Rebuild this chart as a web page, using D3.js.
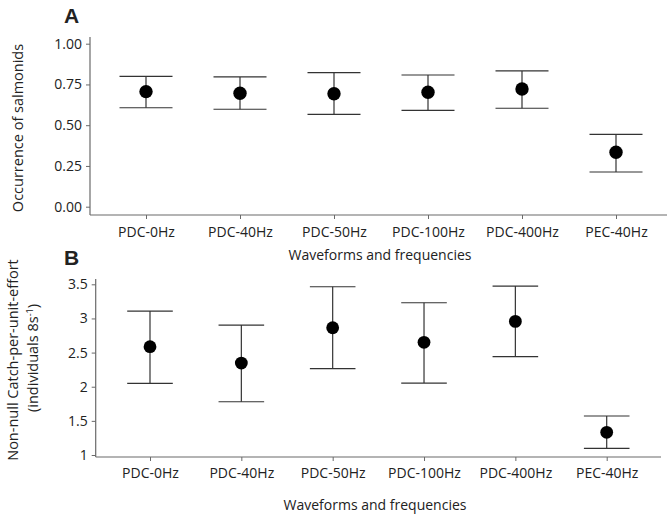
<!DOCTYPE html>
<html>
<head>
<meta charset="utf-8">
<script src="https://cdn.jsdelivr.net/npm/d3@7"></script>
<style>
  html, body { margin: 0; padding: 0; background: #fff; }
  svg { display: block; }
  text { font-family: "Open Sans", "Noto Sans", sans-serif; fill: #222; }
</style>
</head>
<body>
<svg id="chart" width="668" height="518"></svg>
<script>
// ---- Data ----
const categories = ["PDC-0Hz", "PDC-40Hz", "PDC-50Hz", "PDC-100Hz", "PDC-400Hz", "PEC-40Hz"];

// Panel A: occurrence of salmonids
const occMean = [0.706, 0.696, 0.693, 0.702, 0.722, 0.334];
const occLow  = [0.607, 0.598, 0.567, 0.591, 0.604, 0.213];
const occHigh = [0.800, 0.796, 0.822, 0.808, 0.833, 0.444];
const occTicks = [0, 0.25, 0.5, 0.75, 1.0];

// Panel B: non-null CPUE
const cpueMean = [2.586, 2.347, 2.864, 2.650, 2.957, 1.332];
const cpueLow  = [2.050, 1.780, 2.264, 2.054, 2.440, 1.098];
const cpueHigh = [3.108, 2.903, 3.464, 3.230, 3.474, 1.571];
const cpueTicks = [1, 1.5, 2, 2.5, 3, 3.5];

const svg = d3.select("#chart");
const axisColor = "#6a6a6a";
const barColor = "#333";

function panel(cfg) {
  const g = svg.append("g");
  const x = d3.scalePoint().domain(categories).range(cfg.xRange);
  const y = d3.scaleLinear().domain(cfg.yDomain).range(cfg.yRange);

  // y axis
  const ya = g.append("g").attr("transform", `translate(${cfg.left},0)`)
    .call(d3.axisLeft(y).tickValues(cfg.ticks).tickFormat(cfg.fmt).tickSize(4).tickPadding(4));
  ya.select(".domain").remove();
  ya.selectAll(".tick line").attr("stroke", axisColor);
  ya.selectAll(".tick text").style("font-size", "14px").attr("fill", "#222")
    .style("font-family", "'Open Sans', sans-serif");
  g.append("line").attr("x1", cfg.left).attr("x2", cfg.left)
    .attr("y1", cfg.top).attr("y2", cfg.bottom).attr("stroke", axisColor).attr("stroke-width", 1.2);

  // x axis
  const xa = g.append("g").attr("transform", `translate(0,${cfg.bottom})`)
    .call(d3.axisBottom(x).tickSize(4).tickPadding(cfg.xPad));
  xa.select(".domain").remove();
  xa.selectAll(".tick line").attr("stroke", axisColor);
  xa.selectAll(".tick text").style("font-size", "14px").attr("fill", "#222")
    .style("font-family", "'Open Sans', sans-serif");
  g.append("line").attr("x1", cfg.left).attr("x2", cfg.right)
    .attr("y1", cfg.bottom).attr("y2", cfg.bottom).attr("stroke", axisColor).attr("stroke-width", 1.2);

  // error bars
  const data = categories.map((c, i) => ({c, m: cfg.mean[i], lo: cfg.low[i], hi: cfg.high[i]}));
  const eb = g.append("g").selectAll("g").data(data).join("g");
  eb.append("line").attr("x1", d => x(d.c)).attr("x2", d => x(d.c))
    .attr("y1", d => y(d.lo)).attr("y2", d => y(d.hi)).attr("stroke", barColor).attr("stroke-width", 1.2);
  eb.append("line").attr("x1", d => x(d.c) - cfg.cap).attr("x2", d => x(d.c) + cfg.cap)
    .attr("y1", d => y(d.hi)).attr("y2", d => y(d.hi)).attr("stroke", barColor).attr("stroke-width", 1.2);
  eb.append("line").attr("x1", d => x(d.c) - cfg.cap).attr("x2", d => x(d.c) + cfg.cap)
    .attr("y1", d => y(d.lo)).attr("y2", d => y(d.lo)).attr("stroke", barColor).attr("stroke-width", 1.2);
  eb.append("circle").attr("cx", d => x(d.c)).attr("cy", d => y(d.m)).attr("r", cfg.r).attr("fill", "#000");

  // titles
  g.append("text").attr("x", cfg.xTitleX).attr("y", cfg.xTitleY).attr("text-anchor", "middle")
    .style("font-size", "14px").text("Waveforms and frequencies");
  g.append("text").attr("x", cfg.tagX).attr("y", cfg.tagY)
    .style("font-family", "'Liberation Sans', Arial, sans-serif").style("font-weight", "bold")
    .style("font-size", "21px").attr("fill", "#000").text(cfg.tag);
  return g;
}

panel({
  xRange: [146, 616], yDomain: [0, 1], yRange: [206.7, 43.7],
  left: 90, right: 667, top: 37, bottom: 215,
  ticks: occTicks, fmt: d3.format(".2f"), xPad: 8,
  mean: occMean, low: occLow, high: occHigh, cap: 26.5, r: 6.7,
  xTitleX: 380, xTitleY: 260, tag: "A", tagX: 64, tagY: 23
});

const pb = panel({
  xRange: [150, 606.7], yDomain: [1, 3.5], yRange: [455, 284.3],
  left: 95.7, right: 661, top: 279, bottom: 457,
  ticks: cpueTicks, fmt: d3.format(""), xPad: 7,
  mean: cpueMean, low: cpueLow, high: cpueHigh, cap: 22.8, r: 6.4,
  xTitleX: 375, xTitleY: 510, tag: "B", tagX: 64, tagY: 265
});

// y titles
svg.append("text").attr("transform", "translate(23,128) rotate(-90)").attr("text-anchor", "middle")
  .style("font-size", "14.5px").text("Occurrence of salmonids");
svg.append("text").attr("transform", "translate(18,360) rotate(-90)").attr("text-anchor", "middle")
  .style("font-size", "14.5px").text("Non-null Catch-per-unit-effort");
const t2 = svg.append("text").attr("transform", "translate(38,358) rotate(-90)").attr("text-anchor", "middle")
  .style("font-size", "14.5px");
t2.append("tspan").text("(individuals 8s");
t2.append("tspan").attr("dy", -5).style("font-size", "9px").text("-1");
t2.append("tspan").attr("dy", 5).text(")");
</script>
</body>
</html>
